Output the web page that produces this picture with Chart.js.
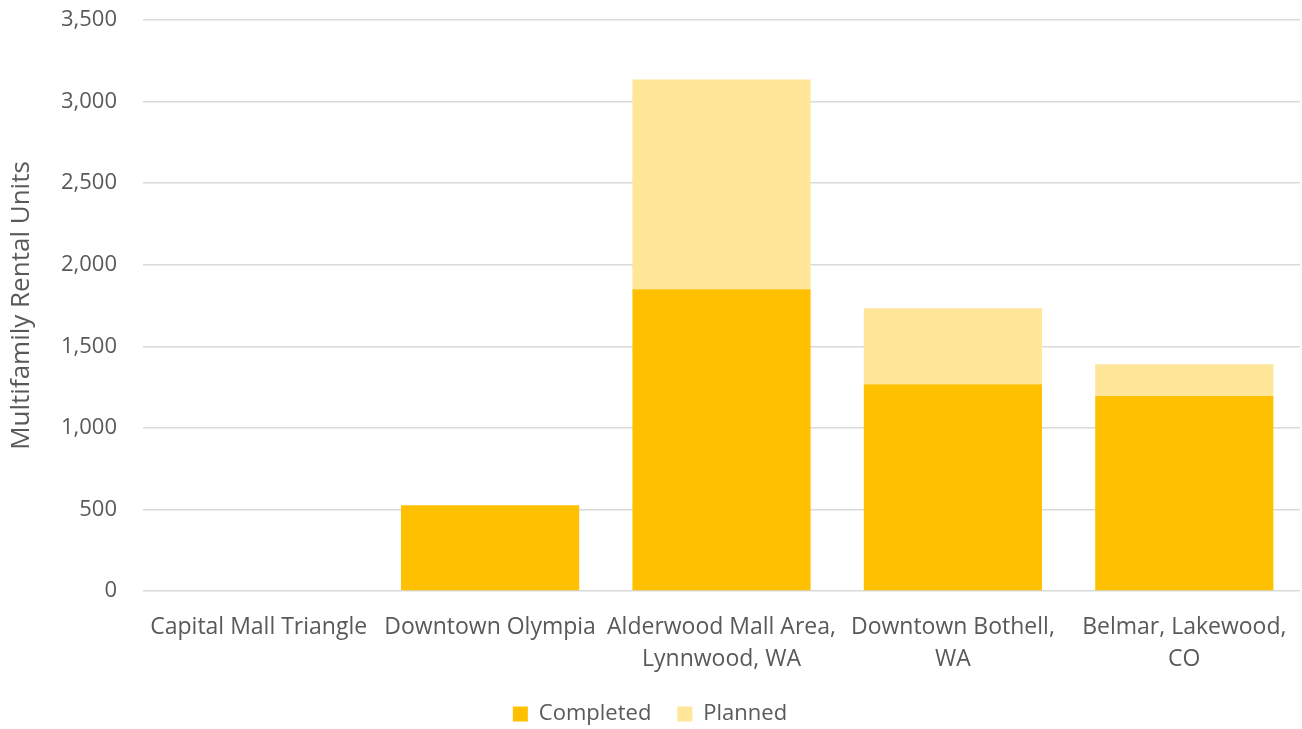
<!DOCTYPE html>
<html>
<head>
<meta charset="utf-8">
<script src="https://cdn.jsdelivr.net/npm/chart.js@4"></script>
<style>
  html, body { margin: 0; padding: 0; background: #fff; }
  #wrap { width: 1302px; height: 729px; }
</style>
</head>
<body>
<div id="wrap"><canvas id="chart"></canvas></div>
<script>
const categories = [
  'Capital Mall Triangle',
  'Downtown Olympia',
  ['Alderwood Mall Area,', 'Lynnwood, WA'],
  ['Downtown Bothell,', 'WA'],
  ['Belmar, Lakewood,', 'CO']
];
const completed = [0, 525, 1850, 1268, 1195];
const planned = [0, 0, 1285, 465, 195];
const yTicks = [0, 500, 1000, 1500, 2000, 2500, 3000, 3500];

const textColor = '#595959';
const fontFamily = '"Open Sans", "Noto Sans", sans-serif';

const ctx = document.getElementById('chart').getContext('2d');
new Chart(ctx, {
  type: 'bar',
  data: {
    labels: categories,
    datasets: [
      {
        label: 'Completed',
        data: completed,
        backgroundColor: '#FFC000',
        categoryPercentage: 1,
        barPercentage: 0.77
      },
      {
        label: 'Planned',
        data: planned,
        backgroundColor: '#FFE699',
        categoryPercentage: 1,
        barPercentage: 0.77
      }
    ]
  },
  options: {
    responsive: true,
    maintainAspectRatio: false,
    animation: false,
    layout: { padding: { top: 20, right: 2, left: 0, bottom: 0 } },
    plugins: {
      legend: {
        position: 'bottom',
        maxHeight: 52,
        labels: {
          color: textColor,
          font: { family: fontFamily, size: 22 },
          boxWidth: 15,
          boxHeight: 15,
          padding: 26
        }
      },
      tooltip: { enabled: false }
    },
    scales: {
      x: {
        stacked: true,
        grid: { display: false },
        border: { display: false },
        afterFit: (scale) => { scale.height = 86; },
        ticks: {
          color: textColor,
          font: { family: fontFamily, size: 23, lineHeight: 1.4 },
          maxRotation: 0,
          autoSkip: false,
          padding: 12
        }
      },
      y: {
        stacked: true,
        min: 0,
        max: 3500,
        afterBuildTicks: (scale) => {
          scale.ticks = yTicks.map(v => ({ value: v }));
        },
        afterFit: (scale) => { scale.width = 143; },
        grid: { color: '#d9d9d9', lineWidth: 1.5, drawTicks: true, tickLength: 26, tickColor: 'rgba(0,0,0,0)' },
        border: { display: false },
        ticks: {
          color: textColor,
          font: { family: fontFamily, size: 22 },
          padding: 0,
          callback: (v) => v.toLocaleString('en-US')
        },
        title: {
          display: true,
          text: 'Multifamily Rental Units',
          color: textColor,
          font: { family: fontFamily, size: 26 },
          padding: { top: 6, bottom: 0 }
        }
      }
    }
  }
});
</script>
</body>
</html>
